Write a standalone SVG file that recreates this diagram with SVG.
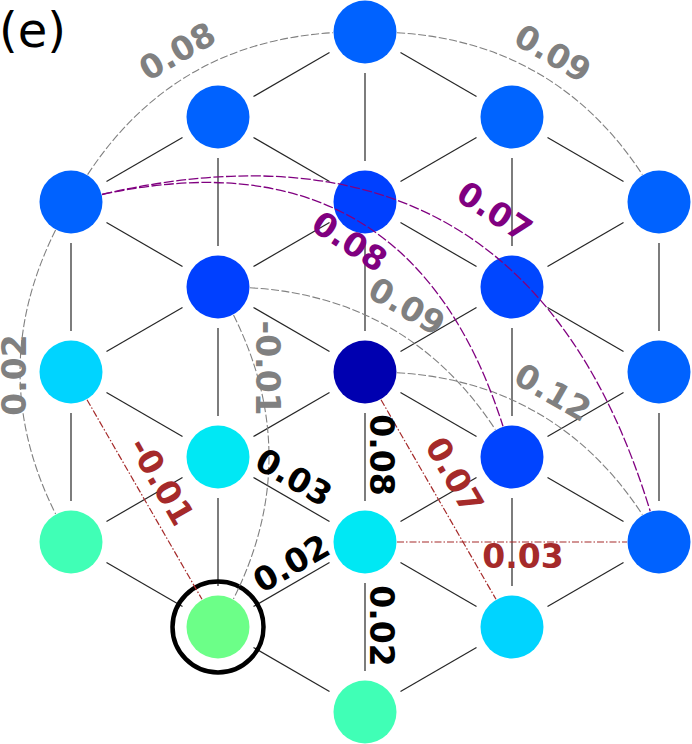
<svg xmlns="http://www.w3.org/2000/svg" width="692" height="744" viewBox="0 0 692 744">
<style>
.e{stroke:#262626;stroke-width:1.2;fill:none}
.g{stroke:#808080;stroke-width:1.1;fill:none;stroke-dasharray:8 2.5}
.p{stroke:#800080;stroke-width:1.3;fill:none;stroke-dasharray:10 2.5}
.r{stroke:#a52a2a;stroke-width:1.2;fill:none;stroke-dasharray:7 2 1.5 2}
text{font-family:"DejaVu Sans","Liberation Sans",sans-serif}
.l{font-weight:bold;font-size:33px;text-anchor:middle}
.lg{fill:#808080}.lp{fill:#800080}.lr{fill:#a52a2a}.lk{fill:#000}
</style>
<rect width="692" height="744" fill="#fff"/>
<text x="-1" y="47" font-size="48" fill="#000">(e)</text>
<g id="edges" class="e">
<line x1="106.5" y1="222.5" x2="182.5" y2="266.5"/>
<line x1="253.5" y1="137.5" x2="329.5" y2="181.5"/>
<line x1="400.5" y1="52.5" x2="476.5" y2="96.5"/>
<line x1="106.5" y1="392.5" x2="182.5" y2="436.5"/>
<line x1="253.5" y1="307.5" x2="329.5" y2="351.5"/>
<line x1="400.5" y1="222.5" x2="476.5" y2="266.5"/>
<line x1="547.5" y1="137.5" x2="623.5" y2="181.5"/>
<line x1="106.5" y1="562.5" x2="182.5" y2="606.5"/>
<line x1="253.5" y1="477.5" x2="329.5" y2="521.5"/>
<line x1="400.5" y1="392.5" x2="476.5" y2="436.5"/>
<line x1="547.5" y1="307.5" x2="623.5" y2="351.5"/>
<line x1="253.5" y1="647.5" x2="329.5" y2="691.5"/>
<line x1="400.5" y1="562.5" x2="476.5" y2="606.5"/>
<line x1="547.5" y1="477.5" x2="623.5" y2="521.5"/>
<line x1="106.5" y1="181.5" x2="182.5" y2="137.5"/>
<line x1="106.5" y1="351.5" x2="182.5" y2="307.5"/>
<line x1="106.5" y1="521.5" x2="182.5" y2="477.5"/>
<line x1="253.5" y1="96.5" x2="329.5" y2="52.5"/>
<line x1="253.5" y1="266.5" x2="329.5" y2="222.5"/>
<line x1="253.5" y1="436.5" x2="329.5" y2="392.5"/>
<line x1="253.5" y1="606.5" x2="329.5" y2="562.5"/>
<line x1="400.5" y1="181.5" x2="476.5" y2="137.5"/>
<line x1="400.5" y1="351.5" x2="476.5" y2="307.5"/>
<line x1="400.5" y1="521.5" x2="476.5" y2="477.5"/>
<line x1="400.5" y1="691.5" x2="476.5" y2="647.5"/>
<line x1="547.5" y1="266.5" x2="623.5" y2="222.5"/>
<line x1="547.5" y1="436.5" x2="623.5" y2="392.5"/>
<line x1="547.5" y1="606.5" x2="623.5" y2="562.5"/>
<line x1="365" y1="73" x2="365" y2="161"/>
<line x1="365" y1="243" x2="365" y2="331"/>
<line x1="365" y1="413" x2="365" y2="501"/>
<line x1="365" y1="583" x2="365" y2="671"/>
<line x1="218" y1="158" x2="218" y2="246"/>
<line x1="218" y1="328" x2="218" y2="416"/>
<line x1="218" y1="498" x2="218" y2="586"/>
<line x1="512" y1="158" x2="512" y2="246"/>
<line x1="512" y1="328" x2="512" y2="416"/>
<line x1="512" y1="498" x2="512" y2="586"/>
<line x1="71" y1="243" x2="71" y2="331"/>
<line x1="71" y1="413" x2="71" y2="501"/>
<line x1="659" y1="243" x2="659" y2="331"/>
<line x1="659" y1="413" x2="659" y2="501"/>
</g>
<g id="nodes">
<g id="n0"><circle cx="365" cy="32" r="31.5" fill="#0062ff"/></g>
<g id="n1"><circle cx="218" cy="117" r="31.5" fill="#0062ff"/></g>
<g id="n2"><circle cx="512" cy="117" r="31.5" fill="#0064ff"/></g>
<g id="n3"><circle cx="71" cy="202" r="31.5" fill="#0062ff"/></g>
<g id="n4"><circle cx="365" cy="202" r="31.5" fill="#0040ff"/></g>
<g id="n5"><circle cx="659" cy="202" r="31.5" fill="#0062ff"/></g>
<g id="n6"><circle cx="218" cy="287" r="31.5" fill="#0040ff"/></g>
<g id="n7"><circle cx="512" cy="287" r="31.5" fill="#0046ff"/></g>
<g id="n8"><circle cx="71" cy="372" r="31.5" fill="#00d4ff"/></g>
<g id="n9"><circle cx="365" cy="372" r="31.5" fill="#0000b0"/></g>
<g id="n10"><circle cx="659" cy="372" r="31.5" fill="#0062ff"/></g>
<g id="n11"><circle cx="218" cy="457" r="31.5" fill="#00e8f4"/></g>
<g id="n12"><circle cx="512" cy="457" r="31.5" fill="#0044ff"/></g>
<g id="n13"><circle cx="71" cy="542" r="31.5" fill="#40ffb6"/></g>
<g id="n14"><circle cx="365" cy="542" r="31.5" fill="#00e8f4"/></g>
<g id="n15"><circle cx="659" cy="542" r="31.5" fill="#0062ff"/></g>
<g id="n16"><circle cx="218" cy="627" r="31.5" fill="#6cff88"/><circle cx="218" cy="627" r="45.5" fill="none" stroke="#000" stroke-width="4.5"/></g>
<g id="n17"><circle cx="512" cy="627" r="31.5" fill="#00d4ff"/></g>
<g id="n18"><circle cx="365" cy="712" r="31.5" fill="#40ffb6"/></g>
</g>
<g id="connectors">
<path class="g" d="M87.6,174.6 Q174.7,42.2 333,32.7"/>
<path class="g" d="M397,32.7 Q555.3,42.2 642.4,174.6"/>
<path class="g" d="M55.6,230.1 Q-15.5,372 55.6,513.9"/>
<path class="g" d="M233.5,315.1 Q304.5,457 233.5,598.9"/>
<path class="g" d="M250,287.7 Q408.3,297.2 495.4,429.6"/>
<path class="g" d="M397,372.7 Q555.3,382.2 642.4,514.6"/>
<path class="p" d="M102.1,194.5 Q407.9,128.2 503,426.3"/>
<path class="p" d="M102.1,194.3 Q523.9,97.3 650.2,511.2"/>
<line class="r" x1="87" y1="399.7" x2="202" y2="599.3"/>
<line class="r" x1="381" y1="399.7" x2="496" y2="599.3"/>
<line class="r" x1="397" y1="542" x2="627" y2="542"/>
</g>
<g id="labels" class="l">
<text class="lg" transform="translate(177,51) rotate(-30)" y="12">0.08</text>
<text class="lg" transform="translate(553,53) rotate(30)" y="12">0.09</text>
<text class="lg" transform="translate(14,375) rotate(-90)" y="12">0.02</text>
<text class="lg" transform="translate(267.5,368) rotate(90)" y="12">-0.01</text>
<text class="lg" transform="translate(407,306) rotate(30)" y="12">0.09</text>
<text class="lg" transform="translate(553,392) rotate(30)" y="12">0.12</text>
<text class="lp" transform="translate(350,241) rotate(33)" y="12">0.08</text>
<text class="lp" transform="translate(495,211) rotate(33)" y="12">0.07</text>
<text class="lk" transform="translate(294,477) rotate(30)" y="12">0.03</text>
<text class="lk" transform="translate(291,563) rotate(-30)" y="12">0.02</text>
<text class="lk" transform="translate(381.5,455) rotate(90)" y="12">0.08</text>
<text class="lk" transform="translate(381.5,626) rotate(90)" y="12">0.02</text>
<text class="lr" transform="translate(162,481) rotate(60)" y="12">-0.01</text>
<text class="lr" transform="translate(455,475) rotate(60)" y="12">0.07</text>
<text class="lr" x="523" y="568">0.03</text>
</g>
</svg>
